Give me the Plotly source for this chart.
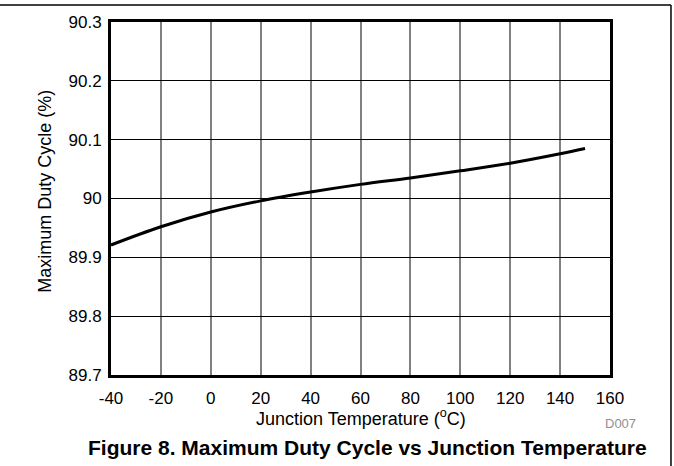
import plotly.graph_objects as go

temperature_c = [-40, -20, 0, 20, 40, 60, 80, 100, 120, 140, 150]
max_duty_pct = [89.921, 89.952, 89.977, 89.996, 90.011, 90.024, 90.035, 90.047, 90.060, 90.076, 90.085]

x_ticks = [-40, -20, 0, 20, 40, 60, 80, 100, 120, 140, 160]
y_ticks = [89.7, 89.8, 89.9, 90.0, 90.1, 90.2, 90.3]
y_tick_labels = ["89.7", "89.8", "89.9", "90", "90.1", "90.2", "90.3"]

FONT = "Liberation Sans, Arial, sans-serif"

fig = go.Figure()
fig.add_trace(go.Scatter(
    x=temperature_c, y=max_duty_pct, mode="lines",
    line=dict(color="black", width=3, shape="spline", smoothing=1.0),
    showlegend=False, hoverinfo="skip",
))

fig.update_layout(
    width=674, height=466,
    margin=dict(l=111, r=64, t=22, b=91),
    paper_bgcolor="white", plot_bgcolor="white",
    font=dict(family=FONT, color="black", size=17),
    xaxis=dict(
        range=[-40, 160], tickvals=x_ticks, ticktext=[str(v) for v in x_ticks],
        showgrid=True, gridcolor="#808080", gridwidth=1.5,
        showline=True, linecolor="black", linewidth=3, mirror=True,
        ticks="", zeroline=False, tickfont=dict(size=17),
        ticklabelstandoff=6,
    ),
    yaxis=dict(
        range=[89.7, 90.3], tickvals=y_ticks, ticktext=y_tick_labels,
        showgrid=True, gridcolor="black", gridwidth=1,
        showline=True, linecolor="black", linewidth=3, mirror=True,
        ticks="", zeroline=False, tickfont=dict(size=17),
        ticklabelstandoff=3,
    ),
    shapes=[
        dict(type="line", xref="paper", yref="paper", x0=-0.23, x1=1.1222, y0=1.0482, y1=1.0482,
             line=dict(color="black", width=1.5)),
        dict(type="line", xref="paper", yref="paper", x0=1.1222, x1=1.1222, y0=1.0482, y1=-0.27,
             line=dict(color="black", width=1.5)),
    ],
    annotations=[
        dict(text="Junction Temperature (<sup>o</sup>C)", xref="paper", yref="paper",
             x=0.5, y=-0.119, showarrow=False, xanchor="center", yanchor="middle",
             font=dict(size=18)),
        dict(text="Maximum Duty Cycle (%)", xref="paper", yref="paper",
             x=-0.1329, y=0.521, showarrow=False, xanchor="center", yanchor="middle",
             textangle=-90, font=dict(size=18)),
        dict(text="D007", xref="paper", yref="paper",
             x=1.0561, y=-0.1374, showarrow=False, xanchor="right", yanchor="middle",
             font=dict(size=13, color="#909090")),
        dict(text="<b>Figure 8. Maximum Duty Cycle vs Junction Temperature</b>", xref="paper", yref="paper",
             x=0.515, y=-0.2054, showarrow=False, xanchor="center", yanchor="middle",
             font=dict(size=21)),
    ],
)

fig.write_html("out.html", config={"displayModeBar": False},
               post_script="document.body.style.margin='0';document.body.style.overflow='hidden';")
